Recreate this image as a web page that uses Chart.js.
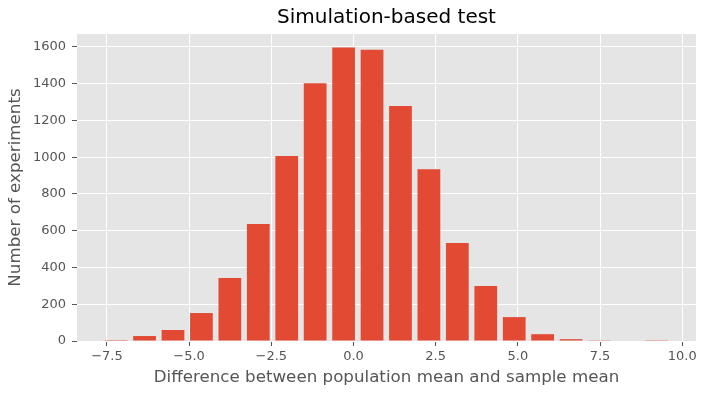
<!DOCTYPE html>
<html>
<head>
<meta charset="utf-8">
<script src="https://cdn.jsdelivr.net/npm/chart.js@4/dist/chart.umd.min.js"></script>
<style>
  body { margin: 0; background: #fff; }
</style>
</head>
<body>
<canvas id="histChart" width="707" height="395"></canvas>
<script>
// bin centres of the histogram
const binCenters = [-7.22, -6.355, -5.49, -4.625, -3.76, -2.895, -2.03, -1.165, -0.30, 0.565,
  1.43, 2.295, 3.16, 4.025, 4.89, 5.755, 6.62, 7.485, 8.35, 9.215];
const counts = [5, 27, 60, 152, 343, 637, 1007, 1402, 1596, 1584,
  1279, 934, 533, 299, 130, 37, 10, 4, 0, 1];
const xTicks = [-7.5, -5.0, -2.5, 0.0, 2.5, 5.0, 7.5, 10.0];
const yTicks = [0, 200, 400, 600, 800, 1000, 1200, 1400, 1600];

const fontFamily = '"DejaVu Sans", sans-serif';

// grey panel behind the bars
const plotBackground = {
  id: 'plotBackground',
  beforeDraw(chart) {
    const { ctx, chartArea } = chart;
    ctx.save();
    ctx.fillStyle = '#E5E5E5';
    ctx.fillRect(chartArea.left, chartArea.top, chartArea.right - chartArea.left, chartArea.bottom - chartArea.top);
    ctx.restore();
  }
};

function minusSign(v) {
  return v.toFixed(1).replace('-', '\u2212');
}

const ctx = document.getElementById('histChart').getContext('2d');
const chart = new Chart(ctx, {
  type: 'bar',
  data: {
    datasets: [{
      data: binCenters.map((x, i) => ({ x: x, y: counts[i] })),
      backgroundColor: '#E24A33',
      borderWidth: 0,
      barPercentage: 0.8,
      categoryPercentage: 1.0,
    }],
  },
  options: {
    responsive: false,
    devicePixelRatio: 1,
    animation: false,
    layout: { padding: { left: 0, right: 11, top: 0, bottom: 0 } },
    plugins: {
      legend: { display: false },
      tooltip: { enabled: false },
      title: {
        display: true,
        fullSize: false,
        text: 'Simulation-based test',
        color: '#000',
        font: { family: fontFamily, size: 20, weight: 'normal', lineHeight: 1.2 },
        padding: { top: 6, bottom: 4 },
      },
    },
    scales: {
      x: {
        type: 'linear',
        min: -8.41,
        max: 10.42,
        offset: false,
        afterBuildTicks: (scale) => { scale.ticks = xTicks.map(v => ({ value: v })); },
        afterFit: (scale) => { scale.height = 54; },
        ticks: {
          color: '#555555',
          font: { family: fontFamily, size: 13 },
          padding: 3,
          maxRotation: 0,
          callback: (v) => minusSign(v),
        },
        grid: { color: '#FFFFFF', lineWidth: 1, tickColor: '#555555', tickLength: 5, offset: false },
        border: { display: false },
        title: {
          display: true,
          text: 'Difference between population mean and sample mean',
          color: '#555555',
          font: { family: fontFamily, size: 16.7 },
          padding: { top: 0, bottom: 7 },
        },
      },
      y: {
        type: 'linear',
        min: 0,
        max: 1670,
        afterBuildTicks: (scale) => { scale.ticks = yTicks.map(v => ({ value: v })); },
        afterFit: (scale) => { scale.width = 77; },
        ticks: {
          color: '#555555',
          font: { family: fontFamily, size: 13 },
          padding: 6,
          callback: (v) => String(v),
        },
        grid: { color: '#FFFFFF', lineWidth: 1, tickColor: '#555555', tickLength: 5 },
        border: { display: false },
        title: {
          display: true,
          text: 'Number of experiments',
          color: '#555555',
          font: { family: fontFamily, size: 16.7 },
          padding: { top: 6, bottom: 0 },
        },
      },
    },
  },
  plugins: [plotBackground],
});
</script>
</body>
</html>
